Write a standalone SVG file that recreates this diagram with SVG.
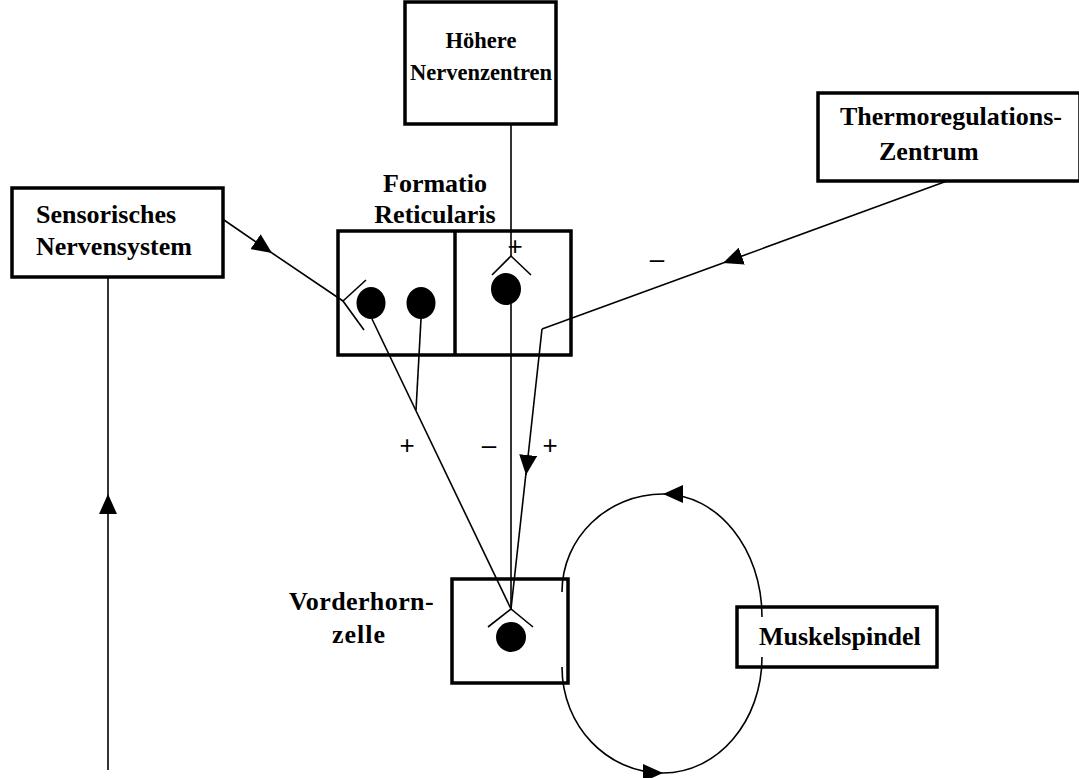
<svg xmlns="http://www.w3.org/2000/svg" width="1079" height="778" viewBox="0 0 1079 778">
<defs>
<style>
.box{fill:none;stroke:#000;stroke-width:3.5}
.ln{fill:none;stroke:#000;stroke-width:1.6}
.lbl{font-family:"Liberation Serif","Times New Roman",serif;font-weight:bold;font-size:26px;fill:#000}
.sm{font-size:22.5px}
.sgn{font-family:"Liberation Sans",Arial,sans-serif;font-size:26px;fill:#000}
.cell{fill:#000}
</style>
<marker id="ah" markerUnits="userSpaceOnUse" markerWidth="22" markerHeight="18" refX="20" refY="9" orient="auto">
<path d="M0,0 L20,9 L0,18 z" fill="#000"/>
</marker>
</defs>

<g id="connectors">
<path class="ln" d="M108,770 L108,494" marker-end="url(#ah)"/>
<path class="ln" d="M108,494 L108,277"/>
<path class="ln" d="M224,220 L272,253" marker-end="url(#ah)"/>
<path class="ln" d="M272,253 L343,301"/>
<path class="ln" d="M511,124 L511,256"/>
<path class="ln" d="M511,304 L511,609"/>
<path class="ln" d="M947,181 L723,263" marker-end="url(#ah)"/>
<path class="ln" d="M723,263 L542,329"/>
<path class="ln" d="M542,329 L526,475" marker-end="url(#ah)"/>
<path class="ln" d="M526,473 L511,609"/>
<path class="ln" d="M372,319 L511,609"/>
<path class="ln" d="M421,319 L416,410"/>
<path class="ln" d="M762,617 C762,549 718,494 663,494" marker-end="url(#ah)"/>
<path class="ln" d="M663,494 C607,494 562,538 562,592"/>
<path class="ln" d="M562,667 C562,726 607,773 663,773" marker-end="url(#ah)"/>
<path class="ln" d="M663,773 C718,773 762,721 762,657"/>
</g>

<g id="hoehere">
<rect class="box" x="405" y="2" width="151" height="122"/>
<text class="lbl sm" x="481" y="48" text-anchor="middle">Höhere</text>
<text class="lbl sm" x="481" y="80" text-anchor="middle">Nervenzentren</text>
</g>

<g id="thermo">
<rect class="box" x="818" y="93" width="262" height="88"/>
<text class="lbl" x="840" y="125">Thermoregulations-</text>
<text class="lbl" x="879" y="160">Zentrum</text>
</g>

<g id="sensorisches">
<rect class="box" x="12" y="188" width="211" height="89"/>
<text class="lbl" x="36" y="223">Sensorisches</text>
<text class="lbl" x="36" y="255">Nervensystem</text>
</g>

<g id="formatio">
<text class="lbl" x="435" y="192" text-anchor="middle">Formatio</text>
<text class="lbl" x="435" y="223" text-anchor="middle">Reticularis</text>
<rect class="box" x="338" y="231" width="233" height="124"/>
<line x1="455" y1="231" x2="455" y2="355" stroke="#000" stroke-width="3.5"/>
<path class="ln" d="M366,280 L343,301 L364,330"/>
<ellipse class="cell" cx="371" cy="303" rx="14.5" ry="16"/>
<ellipse class="cell" cx="421" cy="303" rx="14.5" ry="16"/>
<path class="ln" d="M492,275 L511,256 L531,275"/>
<ellipse class="cell" cx="506" cy="289" rx="15" ry="16"/>
<text class="sgn" x="515" y="255" text-anchor="middle">+</text>
</g>

<g id="vorderhorn">
<rect class="box" x="452" y="579" width="116" height="104"/>
<path class="ln" d="M488,627 L511,609 L533,627"/>
<circle class="cell" cx="511" cy="637" r="15"/>
<text class="lbl" x="289" y="610" letter-spacing="0.4">Vorderhorn-</text>
<text class="lbl" x="332" y="643" letter-spacing="1">zelle</text>
</g>

<g id="muskelspindel">
<rect class="box" x="737" y="607" width="200" height="60"/>
<text class="lbl" x="759" y="645">Muskelspindel</text>
</g>

<g id="signs">
<text class="sgn" x="657" y="268" text-anchor="middle">–</text>
<text class="sgn" x="407" y="454" text-anchor="middle">+</text>
<text class="sgn" x="489" y="454" text-anchor="middle">–</text>
<text class="sgn" x="550" y="454" text-anchor="middle">+</text>
</g>
</svg>
